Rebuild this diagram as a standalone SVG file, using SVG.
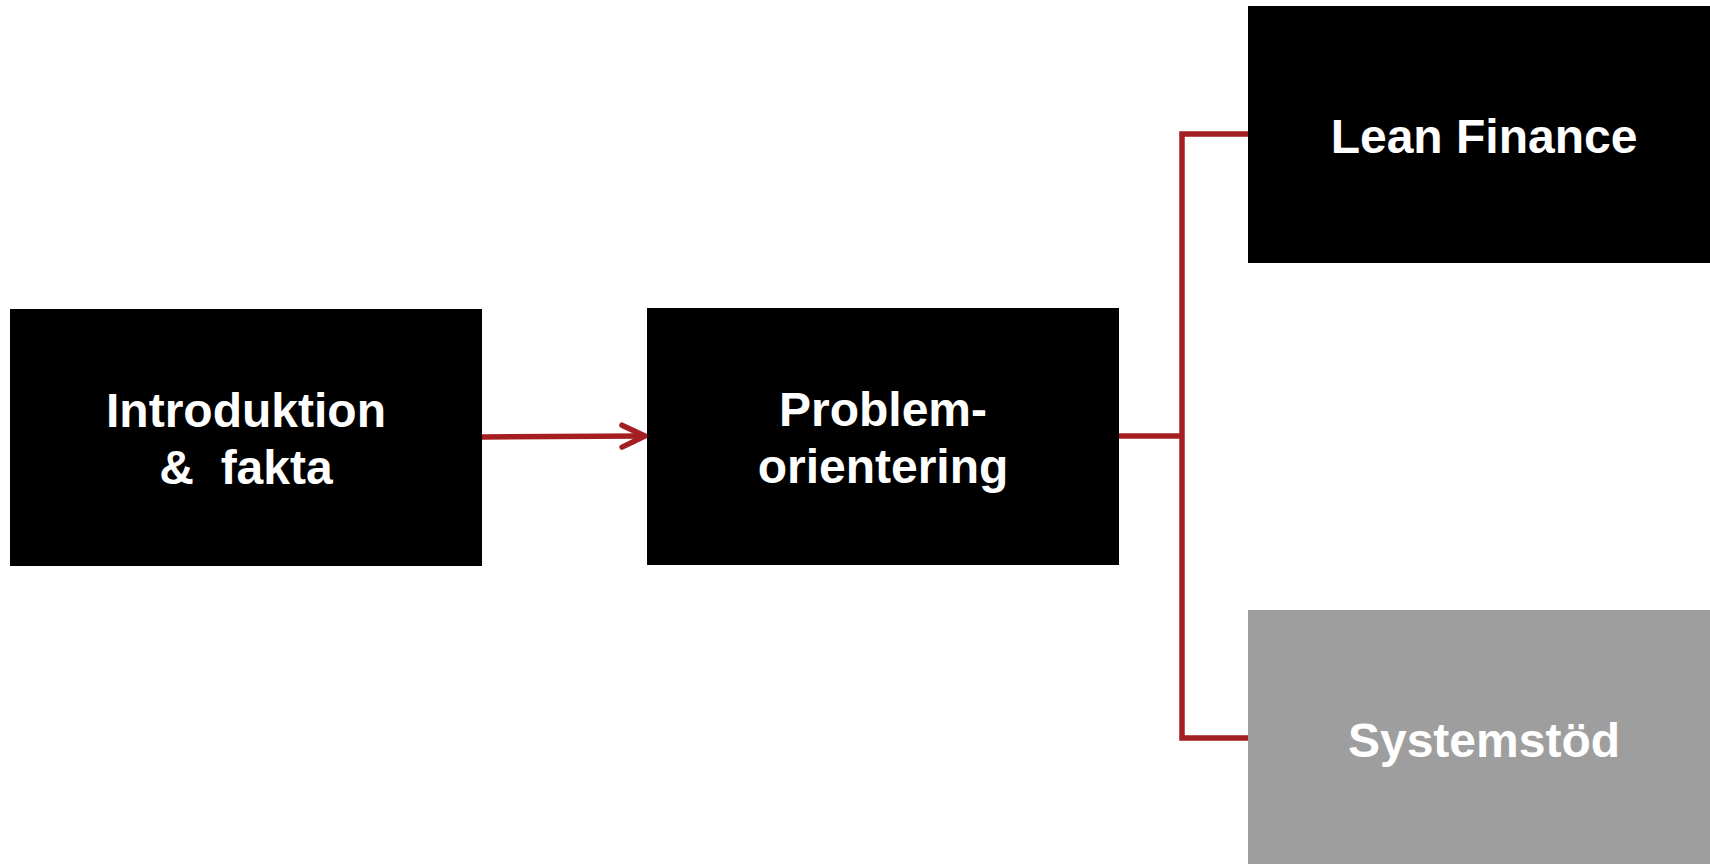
<svg xmlns="http://www.w3.org/2000/svg" width="1710" height="864" viewBox="0 0 1710 864">
  <style>
    .box { fill: #000000; }
    .box.muted { fill: #9e9e9e; }
    .label { font-family: "Liberation Sans", Arial, sans-serif; font-weight: bold; font-size: 48px; fill: #ffffff; text-anchor: middle; white-space: pre; }
    .link { fill: none; stroke: #a51e22; stroke-width: 5.5; }
  </style>
  <defs>
    <!-- open chevron head, drawn in user units so it keeps its size -->
    <marker id="chevron" viewBox="-2 -2 30 30" refX="24" refY="12" markerWidth="30" markerHeight="30" markerUnits="userSpaceOnUse" orient="auto">
      <path d="M1,1 L24,12 L1,23" fill="none" stroke="#a51e22" stroke-width="5.5" stroke-linecap="round" stroke-linejoin="round"/>
    </marker>
  </defs>
  <rect width="1710" height="864" fill="#ffffff"/>

  <g id="connectors">
    <line class="link" x1="482" y1="437" x2="645" y2="436" marker-end="url(#chevron)"/>
    <polyline class="link" points="1119,436 1182,436"/>
    <polyline class="link" points="1248,134 1182,134 1182,738 1248,738"/>
  </g>

  <g id="node-intro">
    <rect class="box" x="10" y="309" width="472" height="257"/>
    <text class="label" x="246" y="427">Introduktion</text>
    <text class="label" x="246" y="484">&amp;  fakta</text>
  </g>

  <g id="node-problem">
    <rect class="box" x="647" y="308" width="472" height="257"/>
    <text class="label" x="883" y="426">Problem-</text>
    <text class="label" x="883" y="483">orientering</text>
  </g>

  <g id="node-lean">
    <rect class="box" x="1248" y="6" width="472" height="257"/>
    <text class="label" x="1484" y="153">Lean Finance</text>
  </g>

  <g id="node-system">
    <rect class="box muted" x="1248" y="610" width="472" height="257"/>
    <text class="label" x="1484" y="757">Systemstöd</text>
  </g>
</svg>
